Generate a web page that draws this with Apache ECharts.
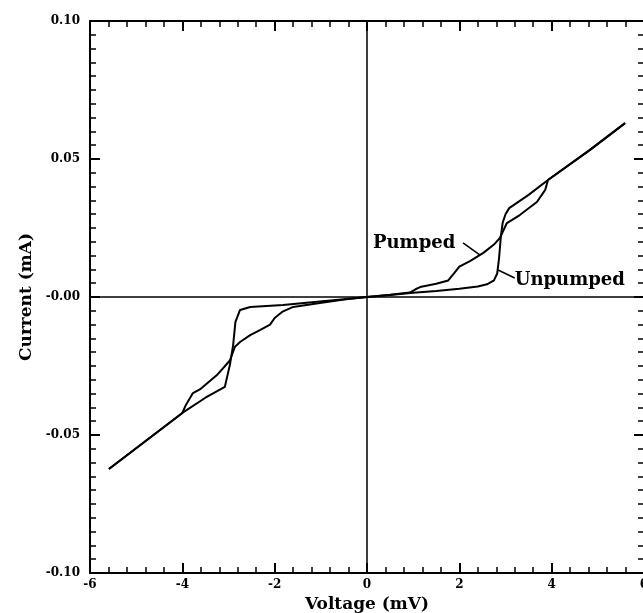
<!DOCTYPE html>
<html>
<head>
<meta charset="utf-8">
<script src="https://cdn.jsdelivr.net/npm/echarts@6/dist/echarts.min.js"></script>
<style>
  html, body { margin: 0; padding: 0; background: #fff; }
  #chart { width: 643px; height: 613px; }
</style>
</head>
<body>
<div id="chart"></div>
<script>
  // I-V curves (mV, mA)
  var unpumpedV = [-5.59, -4.0, -3.5, -3.08, -2.97, -2.9, -2.85, -2.75, -2.53, -1.82, -1.08, -0.5, 0,
    0.5, 1.0, 1.5, 2.0, 2.4, 2.6, 2.75, 2.82, 2.86, 2.9, 2.94, 3.0, 3.08, 3.5, 3.92, 4.83, 5.59]
  var unpumpedI = [-0.0623, -0.042, -0.0365, -0.0326, -0.0246, -0.0175, -0.009, -0.0047, -0.0036, -0.0029, -0.0017, -0.0008, 0,
    0.0007, 0.0015, 0.0022, 0.003, 0.0038, 0.0046, 0.006, 0.0085, 0.014, 0.022, 0.027, 0.030, 0.0322, 0.037, 0.0424, 0.0533, 0.063]

  var pumpedV = [-5.59, -4.0, -3.92, -3.77, -3.62, -3.25, -2.97, -2.86, -2.75, -2.53, -2.32, -2.1, -2.0, -1.84, -1.6, -1.02, -0.5, 0,
    0.5, 0.93, 1.05, 1.15, 1.5, 1.76, 1.88, 2.0, 2.23, 2.52, 2.75, 2.88, 3.03, 3.31, 3.68, 3.86, 3.92, 4.83, 5.59]
  var pumpedI = [-0.0623, -0.042, -0.039, -0.0348, -0.0335, -0.0283, -0.023, -0.018, -0.0163, -0.0138, -0.012, -0.010, -0.0076, -0.0054, -0.0036, -0.0022, -0.0009, 0,
    0.0008, 0.0016, 0.0028, 0.0036, 0.0048, 0.006, 0.0085, 0.011, 0.013, 0.016, 0.019, 0.0214, 0.0268, 0.0297, 0.0344, 0.0388, 0.0424, 0.0533, 0.063]

  var xTicks = [-6, -4, -2, 0, 2, 4, 6]
  var xTickLabels = ['-6', '-4', '-2', '0', '2', '4', '6']
  var yTicks = [-0.10, -0.05, 0, 0.05, 0.10]
  var yTickLabels = ['-0.10', '-0.05', '-0.00', '0.05', '0.10']

  function zip(xs, ys) {
    return xs.map(function (x, i) { return [x, ys[i]] })
  }
  function lookup(ticks, labels, v) {
    for (var i = 0; i < ticks.length; i++) {
      if (Math.abs(ticks[i] - v) < 1e-9) return labels[i]
    }
    return ''
  }

  var serif = 'DejaVu Serif'
  var black = '#000'

  function xAx(pos, showLabel) {
    return {
      type: 'value', position: pos, min: -6, max: 6, interval: 2,
      axisLine: { onZero: false, lineStyle: { color: black, width: 2 } },
      axisTick: { inside: true, length: 10, lineStyle: { color: black, width: 2 } },
      minorTick: { show: true, splitNumber: 5, length: 6, lineStyle: { color: black, width: 1.5 } },
      splitLine: { show: false },
      axisLabel: {
        show: showLabel, color: black, fontFamily: serif, fontWeight: 'bold', fontSize: 12, margin: 6,
        formatter: function (v) { return lookup(xTicks, xTickLabels, v) }
      },
      name: showLabel ? 'Voltage (mV)' : '', nameLocation: 'middle', nameGap: 21,
      nameTextStyle: { color: black, fontFamily: serif, fontWeight: 'bold', fontSize: 17 }
    }
  }
  function yAx(pos, showLabel) {
    return {
      type: 'value', position: pos, min: -0.1, max: 0.1, interval: 0.05,
      axisLine: { onZero: false, lineStyle: { color: black, width: 2 } },
      axisTick: { inside: true, length: 10, lineStyle: { color: black, width: 2 } },
      minorTick: { show: true, splitNumber: 10, length: 6, lineStyle: { color: black, width: 1.5 } },
      splitLine: { show: false },
      axisLabel: {
        show: showLabel, color: black, fontFamily: serif, fontWeight: 'bold', fontSize: 12, margin: 10,
        formatter: function (v) { return lookup(yTicks, yTickLabels, v) }
      },
      name: showLabel ? 'Current (mA)' : '', nameLocation: 'middle', nameGap: 53,
      nameTextStyle: { color: black, fontFamily: serif, fontWeight: 'bold', fontSize: 17 }
    }
  }

  var curveStyle = { color: black, width: 2 }
  var option = {
    animation: false,
    backgroundColor: '#fff',
    grid: { left: 90, right: -1, top: 21, bottom: 40, containLabel: false, outerBoundsMode: 'none' },
    xAxis: [xAx('bottom', true), xAx('top', false)],
    yAxis: [yAx('left', true), yAx('right', false)],
    series: [
      {
        name: 'Unpumped', type: 'line', showSymbol: false, data: zip(unpumpedV, unpumpedI),
        lineStyle: curveStyle, itemStyle: { color: black },
        markLine: {
          silent: true, symbol: 'none', label: { show: false },
          lineStyle: { color: black, width: 1.5, type: 'solid' },
          data: [
            { xAxis: 0 }, { yAxis: 0 },
            [{ coord: [2.84, 0.0098] }, { coord: [3.2, 0.0069] }]
          ]
        }
      },
      {
        name: 'Pumped', type: 'line', showSymbol: false, data: zip(pumpedV, pumpedI),
        lineStyle: curveStyle, itemStyle: { color: black },
        markLine: {
          silent: true, symbol: 'none', label: { show: false },
          lineStyle: { color: black, width: 1.5, type: 'solid' },
          data: [[{ coord: [2.08, 0.0196] }, { coord: [2.45, 0.0152] }]]
        }
      }
    ]
  }

  var chart = echarts.init(document.getElementById('chart'), null, { renderer: 'canvas' })
  chart.setOption(option)

  // curve labels placed in data coords
  var p1 = chart.convertToPixel({ xAxisIndex: 0, yAxisIndex: 0 }, [0.13, 0.0196])
  var p2 = chart.convertToPixel({ xAxisIndex: 0, yAxisIndex: 0 }, [3.2, 0.0062])
  var txt = { fill: black, fontFamily: serif, fontWeight: 'bold', fontSize: 18, verticalAlign: 'middle', align: 'left' }
  chart.setOption({
    graphic: [
      { type: 'text', x: p1[0], y: p1[1], style: Object.assign({ text: 'Pumped' }, txt) },
      { type: 'text', x: p2[0], y: p2[1], style: Object.assign({ text: 'Unpumped' }, txt) }
    ]
  })
</script>
</body>
</html>
